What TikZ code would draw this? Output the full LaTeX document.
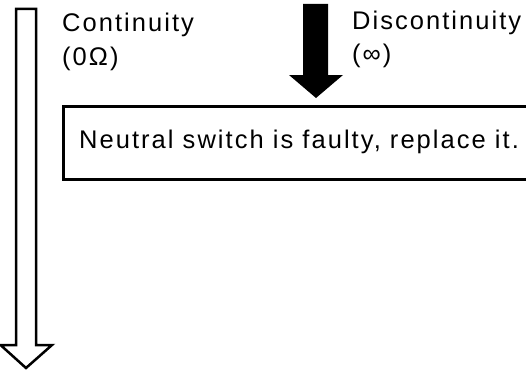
\documentclass[tikz,border=0pt]{standalone}
\usepackage{fontspec}
\setmainfont[LetterSpace=8]{Liberation Sans}
\usetikzlibrary{positioning}
\tikzset{
  label/.style={anchor=base west, inner sep=0pt, align=left,
    font=\fontsize{25.5}{33}\selectfont},
  box/.style={draw, line width=3pt, anchor=north west, minimum width=500pt,
    minimum height=73pt, inner sep=0pt},
  hollowarrow/.style={draw, line width=2.5pt, fill=white, line join=miter},
  solidarrow/.style={fill=black},
}
\begin{document}
\begin{tikzpicture}[x=1pt, y=-1pt]
\useasboundingbox (0,0) rectangle (526,369);
\clip (0,0) rectangle (526,369);
% hollow arrow
\draw[hollowarrow] (16,9) -- (36,9) -- (36,345) -- (52,345) -- (26,368)
  -- (0.5,345) -- (16,345) -- cycle;
% solid arrow
\fill[solidarrow] (303,4) -- (328,4) -- (328,75) -- (343,75) -- (316,98)
  -- (289,75) -- (303,75) -- cycle;
\node[label] (cont) at (62,32) {Continuity};
\node[label, below=33pt of cont.base west, anchor=base west] (zero) {(0Ω)};
\node[label] (disc) at (352,30) {Discontinuity};
\node[label, below=33pt of disc.base west, anchor=base west] (inf) {(∞)};
\node[box] (fault) at (62,105) {};
\node[label] (msg) at (79,148) {Neutral switch is faulty, replace it.};
\end{tikzpicture}
\end{document}
